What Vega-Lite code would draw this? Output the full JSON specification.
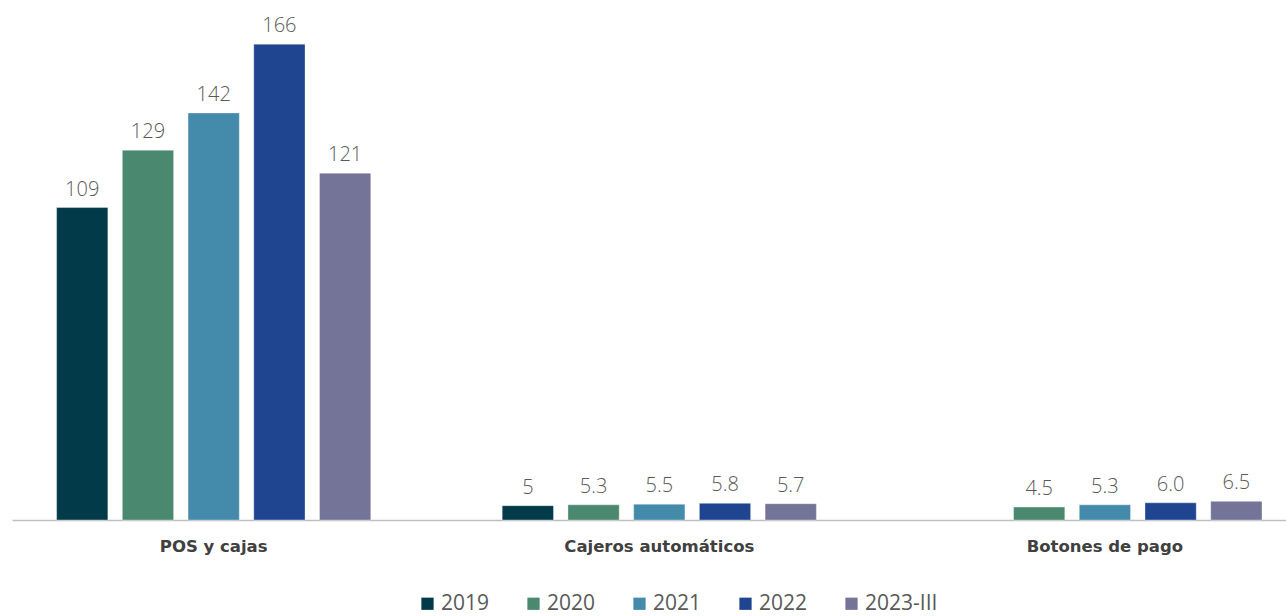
{
  "$schema": "https://vega.github.io/schema/vega-lite/v6.json",
  "width": 1274,
  "height": 516,
  "autosize": {"type": "none"},
  "padding": {"left": 12, "top": 4, "right": 0, "bottom": 96},
  "background": "white",
  "config": {"view": {"stroke": null}, "font": "Open Sans"},
  "data": {
    "values": [
      {"canal": "POS y cajas", "anio": "2019", "valor": 109, "label": "109"},
      {"canal": "POS y cajas", "anio": "2020", "valor": 129, "label": "129"},
      {"canal": "POS y cajas", "anio": "2021", "valor": 142, "label": "142"},
      {"canal": "POS y cajas", "anio": "2022", "valor": 166, "label": "166"},
      {"canal": "POS y cajas", "anio": "2023-III", "valor": 121, "label": "121"},
      {"canal": "Cajeros automáticos", "anio": "2019", "valor": 5.0, "label": "5"},
      {"canal": "Cajeros automáticos", "anio": "2020", "valor": 5.3, "label": "5.3"},
      {"canal": "Cajeros automáticos", "anio": "2021", "valor": 5.5, "label": "5.5"},
      {"canal": "Cajeros automáticos", "anio": "2022", "valor": 5.8, "label": "5.8"},
      {"canal": "Cajeros automáticos", "anio": "2023-III", "valor": 5.7, "label": "5.7"},
      {"canal": "Botones de pago", "anio": "2020", "valor": 4.5, "label": "4.5"},
      {"canal": "Botones de pago", "anio": "2021", "valor": 5.3, "label": "5.3"},
      {"canal": "Botones de pago", "anio": "2022", "valor": 6.0, "label": "6.0"},
      {"canal": "Botones de pago", "anio": "2023-III", "valor": 6.5, "label": "6.5"}
    ]
  },
  "encoding": {
    "x": {
      "field": "canal",
      "type": "nominal",
      "sort": ["POS y cajas", "Cajeros automáticos", "Botones de pago"],
      "scale": {"paddingInner": 0.295, "paddingOuter": 0.077, "align": 0.65},
      "axis": {
        "title": null,
        "labelAngle": 0,
        "ticks": false,
        "domainColor": "#bfbfbf",
        "domainWidth": 1.5,
        "labelFont": "DejaVu Sans",
        "labelFontWeight": "bold",
        "labelFontSize": 16.5,
        "labelColor": "#404040",
        "labelPadding": 18,
        "labelLimit": 400
      }
    },
    "xOffset": {
      "field": "anio",
      "type": "nominal",
      "sort": ["2019", "2020", "2021", "2022", "2023-III"],
      "scale": {"paddingInner": 0.22, "paddingOuter": 0}
    },
    "y": {
      "field": "valor",
      "type": "quantitative",
      "scale": {"domain": [0, 180], "nice": false},
      "axis": null
    }
  },
  "layer": [
    {
      "mark": {"type": "bar", "stroke": "white", "strokeOpacity": 0.35, "strokeWidth": 1},
      "encoding": {
        "color": {
          "field": "anio",
          "type": "nominal",
          "sort": ["2019", "2020", "2021", "2022", "2023-III"],
          "scale": {
            "domain": ["2019", "2020", "2021", "2022", "2023-III"],
            "range": ["#033a4a", "#4a8870", "#448aaa", "#1f4490", "#737498"]
          },
          "legend": {
            "title": null,
            "orient": "none",
            "direction": "horizontal",
            "legendX": 405,
            "legendY": 589,
            "symbolType": "square",
            "symbolSize": 150,
            "symbolStrokeWidth": 0,
            "labelFontSize": 21,
            "labelColor": "#595959",
            "labelFont": "Open Sans",
            "labelOffset": 3,
            "columnPadding": 33
          }
        }
      }
    },
    {
      "mark": {"type": "text", "baseline": "alphabetic", "dy": -12, "fontSize": 20, "color": "#595959", "font": "Open Sans", "fontWeight": 300},
      "encoding": {
        "text": {"field": "label", "type": "nominal"}
      }
    }
  ]
}
